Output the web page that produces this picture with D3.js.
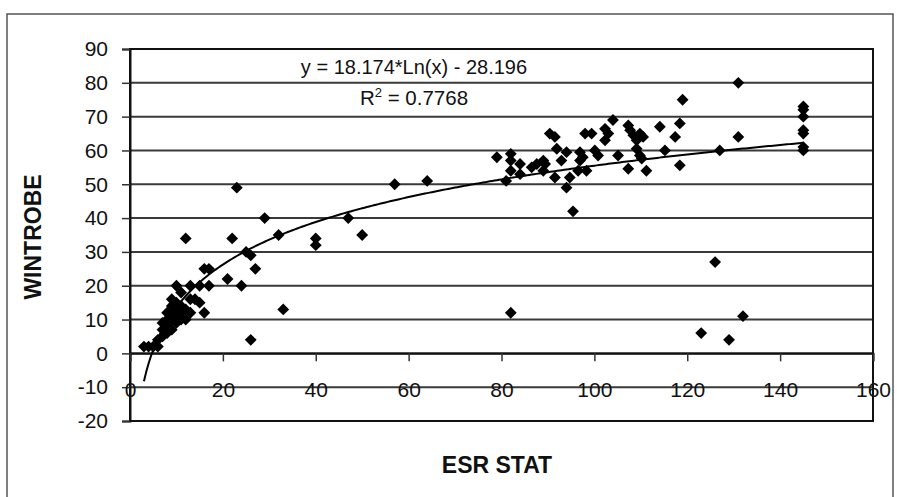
<!DOCTYPE html>
<html>
<head>
<meta charset="utf-8">
<script src="https://cdn.jsdelivr.net/npm/d3@7"></script>
<style>
  body { margin: 0; background: #fff; }
  text { font-family: "Liberation Sans", Arial, sans-serif; fill: #111; }
</style>
</head>
<body>
<svg id="chart" width="897" height="497"></svg>
<script>
// data
var esr = [3, 4, 5, 6, 6, 7, 7, 7, 8, 8, 8, 8, 9, 9, 9, 9, 9, 10, 10, 10, 10, 11, 11, 11, 12, 12, 13,
  10, 11, 13, 14, 15, 16, 13, 15, 17, 16, 17, 12, 21, 24, 22, 23, 25, 26, 27, 26, 29, 32, 33,
  40, 40, 47, 50, 57, 64,
  79, 82, 82, 82, 81, 82, 84, 84, 86.5, 87.6, 89, 89, 89.4, 90.4, 91.5, 91.9, 92.9, 91.5, 94, 94.7, 94, 95.4,
  96.9, 96.9, 97.5, 96.5, 98.3, 98, 99.4, 100.8, 100.1, 102.3, 103, 102.3, 104, 105.1, 107.3, 107.7, 108.4,
  109.1, 109.8, 110.5, 109.1, 109.8, 110.2, 107.3, 111.2, 114.1, 115.2, 117.4, 118.4, 119, 118.4, 127,
  131, 131, 145, 145, 145, 145, 145, 145, 145, 126, 132, 123, 129];
var wintrobe = [2, 2, 2, 2, 4, 5, 7, 9, 6, 8, 10, 12, 7, 10, 12, 14, 16, 9, 11, 13, 15, 10, 12, 14, 10, 13, 12,
  20, 18, 16, 16, 15, 12, 20, 20, 20, 25, 25, 34, 22, 20, 34, 49, 30, 29, 25, 4, 40, 35, 13,
  34, 32, 40, 35, 50, 51,
  58, 59, 57, 54, 51, 12, 56, 53, 55, 56, 57, 54, 56, 65, 64, 60.5, 57, 52, 59.5, 52, 49, 42,
  59.5, 57, 58, 54, 54, 65, 65, 58.5, 60, 66.4, 65, 63, 69, 58.5, 67.4, 66, 64.5,
  63, 65, 64, 60.5, 58.5, 57.6, 54.6, 54, 67, 60, 64, 68, 75, 55.6, 60,
  80, 64, 73, 72, 70, 66, 65, 61, 60, 27, 11, 6, 4];
var xTicks = [0, 20, 40, 60, 80, 100, 120, 140, 160];
var yTicks = [-20, -10, 0, 10, 20, 30, 40, 50, 60, 70, 80, 90];
var fitA = 18.174, fitB = -28.196;

var points = esr.map(function (d, i) { return { x: d, y: wintrobe[i] }; });

var svg = d3.select("#chart");

// outer frame
svg.append("rect")
  .attr("x", 7).attr("y", 14).attr("width", 886).attr("height", 500)
  .attr("fill", "none").attr("stroke", "#555").attr("stroke-width", 1.5);

var x = d3.scaleLinear().domain([0, 160]).range([130, 873]);
var y = d3.scaleLinear().domain([-20, 90]).range([421, 49]);

// gridlines
svg.append("g")
  .selectAll("line")
  .data(yTicks)
  .join("line")
  .attr("x1", x(0)).attr("x2", x(160))
  .attr("y1", function (d) { return y(d); })
  .attr("y2", function (d) { return y(d); })
  .attr("stroke", "#3a3a3a")
  .attr("stroke-width", 2);

// plot border
svg.append("rect")
  .attr("x", x(0)).attr("y", y(90))
  .attr("width", x(160) - x(0)).attr("height", y(-20) - y(90))
  .attr("fill", "none").attr("stroke", "#111").attr("stroke-width", 2);

// axes (plain hyphen for negatives, as in the picture)
var plain = function (d) { return String(d); };
var yAxis = svg.append("g")
  .attr("transform", "translate(" + x(0) + ",0)")
  .call(d3.axisLeft(y).tickValues(yTicks).tickSize(8).tickPadding(14).tickFormat(plain));
var xAxis = svg.append("g")
  .attr("transform", "translate(0," + y(0) + ")")
  .call(d3.axisBottom(x).tickValues(xTicks).tickSize(8).tickPadding(21).tickFormat(plain));

[xAxis, yAxis].forEach(function (g) {
  g.select(".domain").attr("stroke", "#111").attr("stroke-width", 2);
  g.selectAll(".tick line").attr("stroke", "#333").attr("stroke-width", 1.5);
  g.selectAll(".tick text").attr("font-size", 21).attr("fill", "#111")
    .attr("font-family", "Liberation Sans, Arial, sans-serif");
});

// points
svg.append("g")
  .selectAll("path")
  .data(points)
  .join("path")
  .attr("d", d3.symbol(d3.symbolSquare, 70))
  .attr("transform", function (d) {
    return "translate(" + x(d.x) + "," + y(d.y) + ") rotate(45)";
  })
  .attr("fill", "#000");

// log trendline
var xmin = d3.min(esr), xmax = d3.max(esr);
var fit = d3.range(xmin, xmax + 0.01, 0.5).map(function (v) {
  return { x: v, y: fitA * Math.log(v) + fitB };
});
svg.append("path")
  .datum(fit)
  .attr("d", d3.line().x(function (d) { return x(d.x); }).y(function (d) { return y(d.y); }))
  .attr("fill", "none")
  .attr("stroke", "#000")
  .attr("stroke-width", 2);

// equation labels
svg.append("text")
  .attr("x", 414).attr("y", 74)
  .attr("text-anchor", "middle")
  .attr("font-size", 20)
  .text("y = 18.174*Ln(x) - 28.196");
var r2 = svg.append("text")
  .attr("x", 414).attr("y", 105)
  .attr("text-anchor", "middle")
  .attr("font-size", 20.5);
r2.append("tspan").text("R");
r2.append("tspan").attr("dy", -8).attr("font-size", 13).text("2");
r2.append("tspan").attr("dy", 8).text(" = 0.7768");

// axis titles
svg.append("text")
  .attr("x", 497).attr("y", 473)
  .attr("text-anchor", "middle")
  .attr("font-size", 23)
  .attr("font-weight", "bold")
  .text("ESR STAT");
svg.append("text")
  .attr("transform", "translate(41,237) rotate(-90)")
  .attr("text-anchor", "middle")
  .attr("font-size", 23)
  .attr("font-weight", "bold")
  .text("WINTROBE");
</script>
</body>
</html>
